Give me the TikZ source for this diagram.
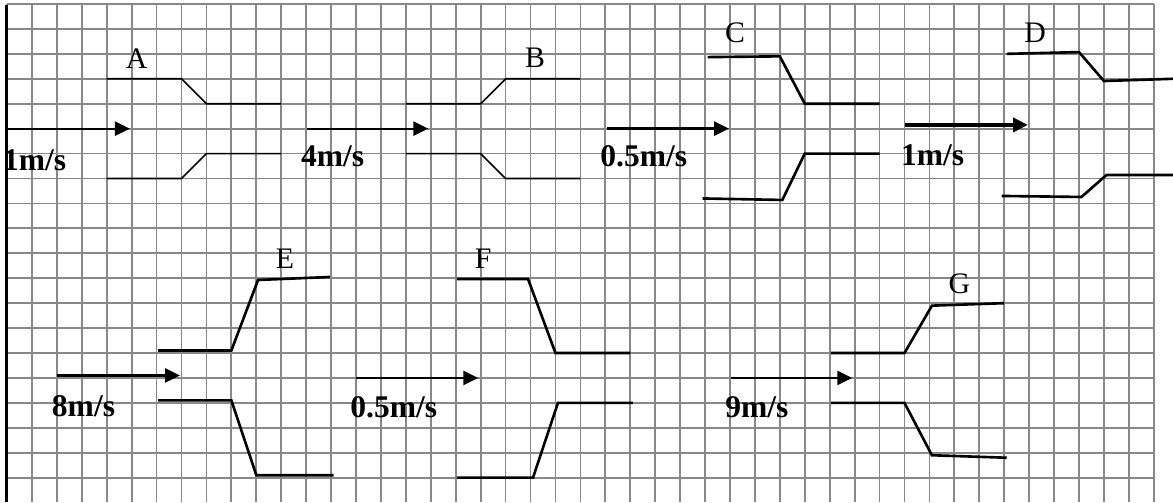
\documentclass[tikz,border=0pt]{standalone}
\usepackage{fontspec}
\setmainfont{Liberation Serif}
\usetikzlibrary{arrows.meta}
\definecolor{gridgray}{RGB}{136,136,136}
\tikzset{
  gridline/.style={draw=gridgray,line width=1pt},
  edge/.style={draw=black,line width=1.7pt},
  wall/.style={draw=black,line width=1.5pt},
  thinwall/.style={draw=black,line width=0.9pt},
  flow/.style={-{Triangle[length=8.5pt,width=8pt]},draw=black,line width=1.3pt},
  tag/.style={anchor=base,inner sep=0pt,font=\fontsize{17}{20}\selectfont},
  speed/.style={anchor=base west,inner sep=0pt,font=\fontsize{18}{21}\selectfont\bfseries}
}

\begin{document}
\begin{tikzpicture}[x=0.5cm,y=-0.5cm]
  \useasboundingbox (-0.28,-0.16) rectangle (46.77,19.98);
  \foreach \i in {0,...,46} \draw[gridline] (\i,0)--(\i,19.98);
  \foreach \j in {0,...,19} \draw[gridline] (0,\j)--(46,\j);
  \draw[edge] (0,0.04)--(0,19.98);

  % A
  \draw[thinwall] (4,3)--(7,3)--(8,4)--(11,4);
  \draw[thinwall] (4,7)--(7,7)--(8,6)--(11,6);
  \node[tag] (tA) at (5.2,2.57) {A};
  \coordinate (inA) at (0,5);
  \coordinate (outA) at (4.93,5);
  \draw[flow] (inA)--(outA);
  \node[speed] (vA) at (-0.17,6.66) {1m/s};

  % B
  \draw[thinwall] (16,4)--(19,4)--(20,3)--(23,3);
  \draw[thinwall] (16,6)--(19,6)--(20,7)--(23,7);
  \node[tag] (tB) at (21.18,2.55) {B};
  \coordinate (inB) at (12.03,5);
  \coordinate (outB) at (16.9,5);
  \draw[flow] (inB)--(outB);
  \node[speed] (vB) at (11.78,6.53) {4m/s};

  % C
  \draw[wall] (28.1,2.13)--(31,2.1)--(32,4)--(35,4);
  \draw[wall] (27.9,7.8)--(31.1,7.86)--(32,6)--(35,6);
  \node[tag] (tC) at (29.2,1.55) {C};
  \coordinate (inC) at (24.07,5);
  \coordinate (outC) at (28.96,5);
  \draw[flow,line width=1.6pt] (inC)--(outC);
  \node[speed] (vC) at (23.79,6.53) {0.5m/s};

  % D
  \draw[wall] (40.1,2.0)--(43,1.93)--(44,3.09)--(46.77,3.0);
  \draw[wall] (39.9,7.7)--(43.1,7.74)--(44.1,6.86)--(46.77,6.86);
  \node[tag] (tD) at (41.24,1.55) {D};
  \coordinate (inD) at (36.0,4.85);
  \coordinate (outD) at (40.95,4.85);
  \draw[flow,line width=2pt] (inD)--(outD);
  \node[speed] (vD) at (35.85,6.49) {1m/s};

  % E
  \draw[wall] (6.06,13.9)--(9,13.9)--(10.07,11.07)--(12.95,10.95);
  \draw[wall] (6.06,15.9)--(9,15.9)--(10,18.9)--(13.1,18.9);
  \node[tag] (tE) at (11.15,10.6) {E};
  \coordinate (inE) at (2.0,14.9);
  \coordinate (outE) at (6.94,14.9);
  \draw[flow] (inE)--(outE);
  \node[speed] (vE) at (1.79,16.55) {8m/s};

  % F
  \draw[wall] (18.05,11.03)--(20.9,11.03)--(22,14)--(25,14);
  \draw[wall] (18.05,19)--(21.1,19)--(22.1,16)--(25.1,16);
  \node[tag] (tF) at (19.1,10.6) {F};
  \coordinate (inF) at (14.0,15);
  \coordinate (outF) at (18.9,15);
  \draw[flow] (inF)--(outF);
  \node[speed] (vF) at (13.76,16.6) {0.5m/s};

  % G
  \draw[wall] (33.05,14)--(36,14)--(37.1,12.1)--(40,12);
  \draw[wall] (33.05,16)--(36,16)--(37.1,18.1)--(40.1,18.2);
  \node[tag] (tG) at (38.2,11.6) {G};
  \coordinate (inG) at (29.04,15);
  \coordinate (outG) at (33.9,15);
  \draw[flow] (inG)--(outG);
  \node[speed] (vG) at (28.8,16.6) {9m/s};
\end{tikzpicture}
\end{document}
